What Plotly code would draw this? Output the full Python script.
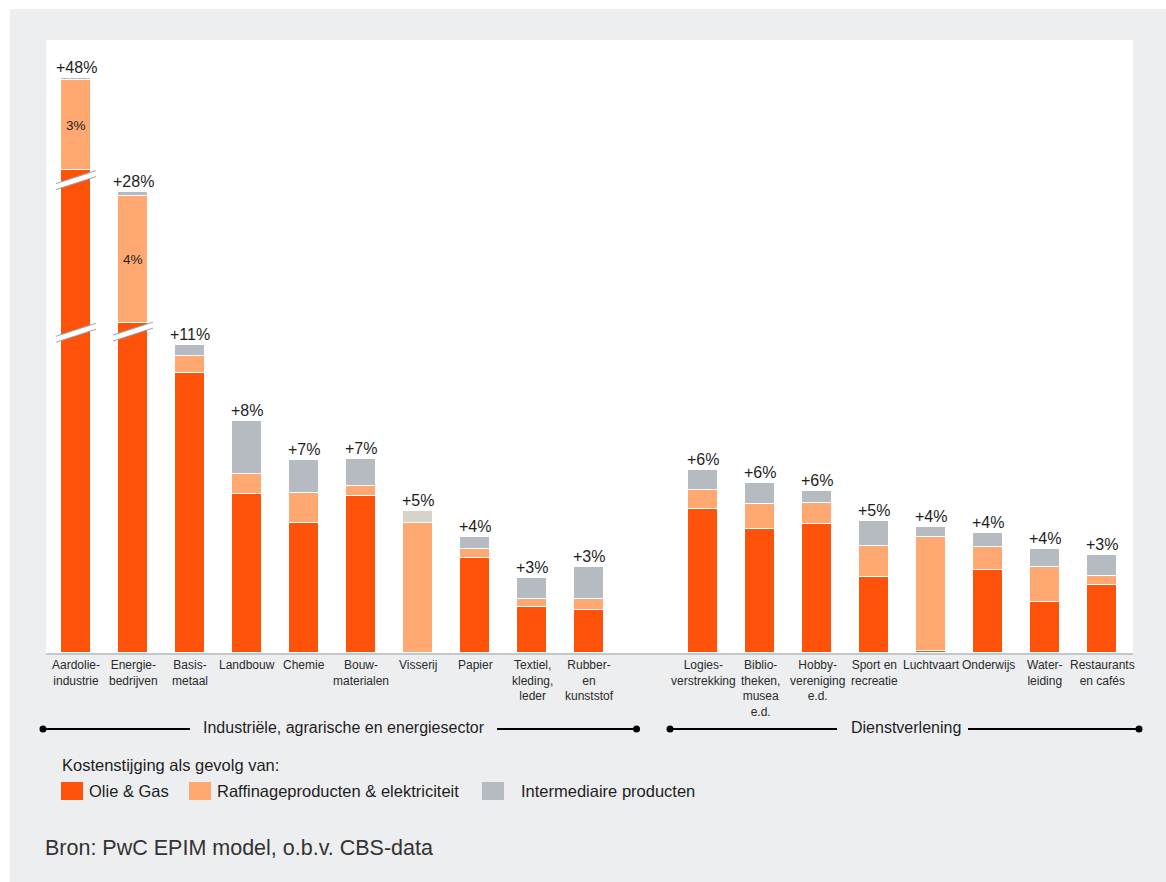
import plotly.graph_objects as go

# ---------------- data ----------------
industry_labels = ["Aardolie-<br>industrie", "Energie-<br>bedrijven", "Basis-<br>metaal", "Landbouw",
                   "Chemie", "Bouw-<br>materialen", "Visserij", "Papier",
                   "Textiel,<br>kleding,<br>leder", "Rubber-<br>en<br>kunststof"]
services_labels = ["Logies-<br>verstrekking", "Biblio-<br>theken,<br>musea<br>e.d.", "Hobby-<br>vereniging<br>e.d.",
                   "Sport en<br>recreatie", "Luchtvaart", "Onderwijs", "Water-<br>leiding", "Restaurants<br>en cafés"]

olie_industry = [44.8, 23.5, 9.72, 5.53, 4.53, 5.44, 0.0, 3.31, 1.61, 1.48]
raff_industry = [3.14, 4.40, 0.61, 0.69, 1.04, 0.36, 4.53, 0.29, 0.28, 0.38]
inter_industry = [0.08, 0.12, 0.38, 1.83, 1.13, 0.95, 0.39, 0.44, 0.72, 1.12]
totals_industry = [48, 28, 11, 8, 7, 7, 5, 4, 3, 3]

olie_services = [5.00, 4.29, 4.48, 2.64, 0.06, 2.89, 1.76, 2.37]
raff_services = [0.65, 0.88, 0.73, 1.06, 3.97, 0.79, 1.23, 0.30]
inter_services = [0.69, 0.73, 0.43, 0.89, 0.35, 0.47, 0.61, 0.74]
totals_services = [6, 6, 6, 5, 4, 4, 4, 3]

# bars drawn with a broken (truncated) Olie & Gas segment: shown height on axis
broken_shown = {"Aardolie-<br>industrie": 16.76, "Energie-<br>bedrijven": 11.47}
inside_labels = {"Aardolie-<br>industrie": "3%", "Energie-<br>bedrijven": "4%"}

group_names = ["Industriële, agrarische en energiesector", "Dienstverlening"]
legend_title = "Kostenstijging als gevolg van:"
series_names = ["Olie & Gas", "Raffinageproducten & elektriciteit", "Intermediaire producten"]
source_text = "Bron: PwC EPIM model, o.b.v. CBS-data"

# ---------------- style ----------------
DARK = "#FE5109"
LIGHT = "#FFA872"
GREY = "#B6BBC2"
BEIGE = "#D7D3C9"
PAGE = "#EDEEF0"
TXT = "#1E1E1E"
FONT = "Liberation Sans, Arial, sans-serif"

L, R, T, B = 46, 1133, 40, 653
W, H = R - L, B - T
PX_PER_UNIT_Y = 28.8
SLOT_PX = 57
FIRST_SLOT_PX = 76
x0 = -(FIRST_SLOT_PX - L) / SLOT_PX
x1 = x0 + W / SLOT_PX
y1 = H / PX_PER_UNIT_Y


def px_x(px):
    return (px - L) / W


def px_y(py):
    return (B - py) / H


labels = industry_labels + services_labels
xs = list(range(len(industry_labels))) + [len(industry_labels) + 1 + i for i in range(len(services_labels))]
olie = olie_industry + olie_services
raff = raff_industry + raff_services
inter = inter_industry + inter_services
totals = totals_industry + totals_services

olie_disp = [broken_shown.get(lab, v) for lab, v in zip(labels, olie)]
inter_colors = [BEIGE if o == 0 else GREY for o in olie]

BW = 0.54
fig = go.Figure()
fig.add_trace(go.Bar(x=xs, y=olie_disp, name=series_names[0], width=BW,
                     customdata=olie, hovertemplate="%{customdata:.1f}%<extra>Olie & Gas</extra>",
                     marker=dict(color=DARK, line=dict(color="white", width=1))))
fig.add_trace(go.Bar(x=xs, y=raff, name=series_names[1], width=BW,
                     marker=dict(color=LIGHT, line=dict(color="white", width=1))))
fig.add_trace(go.Bar(x=xs, y=inter, name=series_names[2], width=BW,
                     marker=dict(color=inter_colors, line=dict(color="white", width=1))))

shapes = []
annotations = []


def note(x, y, text, size, xanchor="center", yanchor="middle", xref="paper", yref="paper",
         color=TXT, align="center"):
    annotations.append(dict(x=x, y=y, xref=xref, yref=yref, text=text, showarrow=False,
                            xanchor=xanchor, yanchor=yanchor, align=align,
                            font=dict(size=size, color=color, family=FONT)))


# page background
shapes.append(dict(type="rect", xref="paper", yref="paper", layer="below",
                   x0=px_x(10), x1=px_x(1170), y0=px_y(886), y1=px_y(9),
                   fillcolor=PAGE, line=dict(width=0)))
shapes.append(dict(type="rect", xref="paper", yref="paper", layer="below",
                   x0=0, x1=1, y0=0, y1=1, fillcolor="white", line=dict(width=0)))

# totals above bars, inside labels, category labels
for x, lab, o, r, i, t in zip(xs, labels, olie_disp, raff, inter, totals):
    top = o + r + i
    note(x, top, f"+{t}%", 16, yanchor="bottom", xref="x", yref="y")
    if lab in inside_labels:
        note(x, o + r / 2, inside_labels[lab], 13.5, xref="x", yref="y")
    note(x, px_y(656), lab, 12, yanchor="top", xref="x", color="#2A2A2A")

# axis break marks
slope = 13 / PX_PER_UNIT_Y
thick = 6 / PX_PER_UNIT_Y
hw = 20 / SLOT_PX
break_marks = {"Aardolie-<br>industrie": [11.12, 16.42], "Energie-<br>bedrijven": [11.16]}
for x, lab in zip(xs, labels):
    for yc in break_marks.get(lab, []):
        ya = yc - slope / 2
        yb = yc + slope / 2
        path = (f"M {x - hw},{ya - thick / 2} L {x + hw},{yb - thick / 2} "
                f"L {x + hw},{yb + thick / 2} L {x - hw},{ya + thick / 2} Z")
        shapes.append(dict(type="path", xref="x", yref="y", path=path, fillcolor="white",
                           line=dict(width=0), layer="above"))
        for s in (-1, 1):
            shapes.append(dict(type="line", xref="x", yref="y", layer="above",
                               x0=x - hw, x1=x + hw, y0=ya + s * thick / 2, y1=yb + s * thick / 2,
                               line=dict(color="#9DA2A8", width=1)))

# group separators
gy = px_y(729)
groups = [(43, 190, 497, 636.5, 344.5), (670, 837, 968, 1139, 905.5)]
for name, (a, b, c, d, mid) in zip(group_names, groups):
    for xa, xb in ((a, b), (c, d)):
        shapes.append(dict(type="line", xref="paper", yref="paper", x0=px_x(xa), x1=px_x(xb),
                           y0=gy, y1=gy, line=dict(color="black", width=2)))
    for xc in (a, d):
        shapes.append(dict(type="circle", xref="paper", yref="paper", xsizemode="pixel",
                           ysizemode="pixel", xanchor=px_x(xc), yanchor=gy,
                           x0=-3.5, x1=3.5, y0=-3.5, y1=3.5, fillcolor="black",
                           line=dict(width=0)))
    note(px_x(mid), px_y(727.5), name, 16)

# legend
note(px_x(60), px_y(765), legend_title, 16.5, xanchor="left")
leg_sq = [61, 189, 482]
leg_tx = [87, 215, 519]
leg_col = [DARK, LIGHT, GREY]
for sq, tx, col, nm in zip(leg_sq, leg_tx, leg_col, series_names):
    shapes.append(dict(type="rect", xref="paper", yref="paper", x0=px_x(sq), x1=px_x(sq + 22),
                       y0=px_y(800), y1=px_y(782), fillcolor=col, line=dict(width=0)))
    note(px_x(tx), px_y(790.5), nm, 16.5, xanchor="left")

note(px_x(43), px_y(848), source_text, 21.5, xanchor="left", color="#333333")

fig.update_layout(
    barmode="stack",
    width=1166, height=882,
    margin=dict(l=L, r=1166 - R, t=T, b=882 - B, autoexpand=False),
    paper_bgcolor="white",
    plot_bgcolor="rgba(0,0,0,0)",
    showlegend=False,
    bargap=0,
    shapes=shapes,
    annotations=annotations,
    font=dict(family=FONT),
    xaxis=dict(range=[x0, x1], showgrid=False, zeroline=False, showticklabels=False,
               ticks="", showline=True, linecolor="#C3C6CB", linewidth=2, fixedrange=True),
    yaxis=dict(range=[0, y1], visible=False, fixedrange=True),
)

fig.write_html("out.html")
